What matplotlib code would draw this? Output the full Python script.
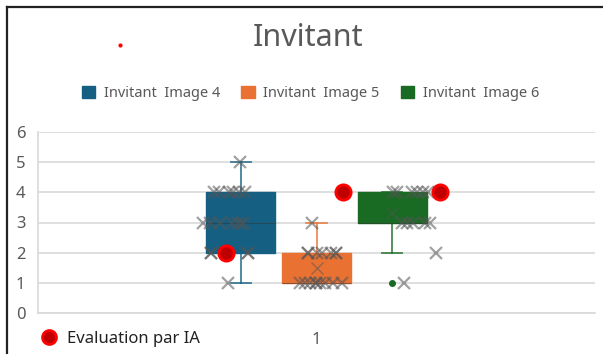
import matplotlib
matplotlib.use("Agg")
import matplotlib.pyplot as plt
from matplotlib.patches import Patch
from matplotlib.lines import Line2D

plt.rcParams['font.family'] = ['Noto Sans', 'DejaVu Sans']

# series names and colours
series = ['Invitant  Image 4', 'Invitant  Image 5', 'Invitant  Image 6']
colors = ['#156082', '#E97132', '#196B24']
offsets = [-0.136, 0.0, 0.136]

# box statistics (whisker low, Q1, median, Q3, whisker high, mean, outliers)
whislo = [1, 1, 2]
q1 = [2, 1, 3]
med = [3, 1, 3]
q3 = [4, 2, 4]
whishi = [5, 3, 4]
means = [3.0, 1.5, 3.33]
fliers = [[], [], [1]]

# individual ratings (jittered x, value)
pts4_x = [0.863, 0.816, 0.825, 0.843, 0.850, 0.861, 0.872,
          0.796, 0.809, 0.827, 0.848, 0.859, 0.868,
          0.811, 0.811, 0.877, 0.877, 0.841]
pts4_y = [5, 4, 4, 4, 4, 4, 4, 3, 3, 3, 3, 3, 3, 2, 2, 2, 2, 1]
pts5_x = [0.992, 0.985, 0.985, 1.001, 1.010, 1.026, 1.035, 1.035,
          0.970, 0.979, 0.988, 0.999, 0.999, 1.006, 1.015, 1.030, 1.046]
pts5_y = [3, 2, 2, 2, 2, 2, 2, 2, 1, 1, 1, 1, 1, 1, 1, 1, 1]
pts6_x = [1.137, 1.145, 1.171, 1.180, 1.191, 1.200,
          1.153, 1.162, 1.173, 1.195, 1.204, 1.215, 1.157]
pts6_y = [4, 4, 4, 4, 4, 4, 3, 3, 3, 3, 3, 2, 1]

# AI evaluation
ia_x = [0.838, 1.048, 1.222]
ia_y = [2, 4, 4]

fig = plt.figure(figsize=(6.03, 3.54), dpi=100)
ax = fig.add_axes([38 / 603, 41 / 354, 557 / 603, 181 / 354])

stats = []
for i in range(3):
    stats.append(dict(whislo=whislo[i], q1=q1[i], med=med[i], q3=q3[i],
                      whishi=whishi[i], mean=means[i], fliers=fliers[i]))

for i, st in enumerate(stats):
    c = colors[i]
    ax.bxp([st], positions=[1 + offsets[i]], widths=0.124, patch_artist=True,
           showmeans=True, manage_ticks=False,
           boxprops=dict(facecolor=c, edgecolor=c, linewidth=1),
           medianprops=dict(color='#333333', linewidth=0.8, alpha=0.5),
           whiskerprops=dict(color=c, linewidth=1.3, alpha=0.8),
           capprops=dict(color=c, linewidth=1.3, alpha=0.8),
           capwidths=0.036,
           meanprops=dict(marker='x', markeredgecolor='#555555', markersize=8,
                          markeredgewidth=1, alpha=0.5),
           flierprops=dict(marker='o', markerfacecolor=c, markeredgecolor=c,
                           markersize=4))

for xs, ys in [(pts4_x, pts4_y), (pts5_x, pts5_y), (pts6_x, pts6_y)]:
    ax.plot(xs, ys, 'x', color='#555555', alpha=0.55, markersize=9,
            markeredgewidth=1.6, zorder=4)

ax.plot(ia_x, ia_y, 'o', markerfacecolor='#c00000', markeredgecolor='red',
        markeredgewidth=2, markersize=11, zorder=5, linestyle='none')

ax.set_xlim(0.5, 1.5)
ax.set_ylim(0, 6)
ax.set_yticks(range(7))
ax.set_xticks([1])
ax.set_xticklabels(['1'])
ax.tick_params(length=0, labelsize=12, colors='#595959')
ax.tick_params(axis='x', pad=14)
ax.tick_params(axis='y', pad=9)
ax.grid(axis='y', color='#d9d9d9', linewidth=1.2)
ax.set_axisbelow(True)
for s in ['top', 'right']:
    ax.spines[s].set_visible(False)
for s in ['left', 'bottom']:
    ax.spines[s].set_color('#d9d9d9')
    ax.spines[s].set_linewidth(1.2)

fig.text(0.511, 0.893, 'Invitant', ha='center', va='center',
         fontsize=22, color='#595959')

handles = [Patch(facecolor=c, edgecolor=c) for c in colors]
fig.legend(handles, series, loc='center', bbox_to_anchor=(0.515, 0.737),
           ncol=3, frameon=False, fontsize=10.5, labelcolor='#595959',
           handlelength=0.9, handleheight=0.9, handletextpad=0.6,
           columnspacing=1.45)

ia_handle = Line2D([], [], marker='o', linestyle='none',
                   markerfacecolor='#c00000', markeredgecolor='red',
                   markeredgewidth=2, markersize=10)
fig.legend([ia_handle], ['Evaluation par IA'], loc='center left',
           bbox_to_anchor=(0.029, 0.043), frameon=False, fontsize=12,
           handletextpad=0.1, labelcolor='#222222')

# sheet frame around the chart
fig.add_artist(Line2D([7 / 603, 1], [1 - 7 / 354, 1 - 7 / 354],
                      color='#222222', linewidth=1.6))
fig.add_artist(Line2D([7 / 603, 7 / 603], [0, 1 - 7 / 354],
                      color='#222222', linewidth=1.6))
fig.add_artist(Line2D([120 / 603], [1 - 45 / 354], marker='o', color='red',
                      markersize=2, linestyle='none'))

fig.savefig('out.png', dpi=100)
